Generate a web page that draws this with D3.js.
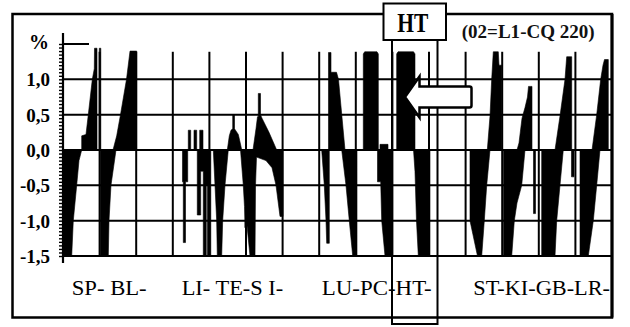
<!DOCTYPE html>
<html><head><meta charset="utf-8">
<script src="https://cdn.jsdelivr.net/npm/d3@7"></script>
<style>html,body{margin:0;padding:0;background:#fff;}svg{display:block;}
.serif{font-family:"Liberation Serif","Times New Roman",Tinos,serif;}
</style>
</head><body>
<svg id="chart" width="630" height="327"></svg>
<script>
// ---------- data ----------
const yTickValues = [-1.5, -1.0, -0.5, 0.0, 0.5, 1.0];
const yTickLabels = ["-1,5", "-1,0", "-0,5", "0,0", "0,5", "1,0"];
const xGridValues = [10, 20, 30, 40, 50, 60, 70, 80, 90, 100, 110, 120, 130, 140];
const groupLabels = ["SP- BL-", "LI- TE-S I-", "LU-PC-HT-", "ST-KI-GB-LR-"];
const highlightLabel = "HT";
const noteLabel = "(02=L1-CQ 220)";
const unitLabel = "%";

// upper (positive) envelope of the dense bars: [position, value]
const upperEnvelope = [
  [5.11,0],[5.11,0.2],[6.28,0.22],[6.91,0.5],[8.01,1.0],[8.55,1.15],[8.61,1.44],[9.29,1.44],[9.29,0],
  [9.92,0],[9.92,1.44],[10.33,1.44],[10.33,0],
  [13.66,0],[14.67,0.2],[15.71,0.5],[17.35,1.0],[18.31,1.4],[20.14,1.4],[20.14,0],
  [34.23,0],[34.23,0.28],[34.89,0.28],[34.89,0],
  [35.79,0],[35.79,0.28],[36.53,0.28],[36.53,0],
  [37.35,0],[37.35,0.28],[38.25,0.28],[38.25,0],
  [44.89,0],[45.44,0.2],[45.9,0.28],[46.37,0.3],[46.37,0.5],[46.86,0.5],[46.86,0.3],[47.9,0.22],[48.55,0.07],[48.83,0],
  [51.91,0],[52.73,0.3],[53.14,0.47],[53.36,0.47],[53.36,0.8],[53.96,0.8],[53.96,0.5],[54.37,0.45],[56.28,0.25],[58.39,0],
  [72.54,0],[72.54,1.38],[73.22,1.38],[73.22,1.1],[74.73,1.1],[75.27,1.0],[77.05,0],
  [82.05,0],[82.05,1.36],[82.43,1.39],[85.79,1.39],[86.15,1.36],[86.15,0],
  [86.61,0],[86.61,0.08],[88.8,0.08],[88.8,0],
  [91.17,0],[91.17,1.36],[91.53,1.39],[95.77,1.39],[96.17,1.36],[96.17,0],
  [115.93,0],[116.67,0.48],[117.13,1.0],[117.57,1.39],[118.93,1.39],[119.13,1.2],[119.86,1.2],[119.86,0],
  [124.04,0],[124.59,0.1],[125.41,0.45],[126.23,0.6],[126.91,0.75],[127.19,0.9],[128.14,0.9],[128.14,0],
  [134.43,0],[135.79,0.48],[137.16,1.0],[137.62,1.32],[138.99,1.32],[138.99,0],
  [144.54,0],[145.82,0.5],[146.91,1.0],[147.54,1.2],[147.95,1.28],[148.99,1.28],[148.99,0]
];

// lower (negative) envelope of the dense bars: [position, value]
const lowerEnvelope = [
  [0,0],[0,-1.5],[2.38,-1.5],[2.81,-1.0],[3.74,-0.5],[4.37,-0.15],[5.11,0],
  [10.19,0],[10.19,-1.5],[12.38,-1.5],[12.57,-1.0],[13.11,-0.5],[14.21,-0.1],[14.48,0],
  [32.65,0],[32.65,-0.45],[32.87,-0.45],[32.87,-1.31],[33.47,-1.31],[33.47,-0.45],[34.07,-0.45],[34.07,0],
  [36.69,0],[36.69,-0.92],[37.62,-0.92],[37.62,-0.3],[38.33,-0.3],[38.33,-1.5],[39.15,-1.5],[39.15,-0.5],[39.48,-0.5],[39.48,-1.5],[40.38,-1.5],[40.38,0],
  [41.07,0],[41.53,-0.5],[41.99,-1.0],[42.16,-1.5],[43.36,-1.5],[43.63,-1.0],[44.26,-0.5],[45.16,0],
  [48.5,0],[49.26,-0.5],[49.59,-0.8],[49.73,-1.1],[49.95,-0.9],[50.14,-1.0],[51.09,-1.5],[52.46,-1.5],[52.6,-0.5],[52.87,-0.1],[55.46,-0.15],[57.1,-0.25],[58.2,-0.5],[59.29,-0.94],[60.11,-0.94],[60.11,0],
  [70.68,0],[71.39,-0.5],[71.86,-1.0],[72.05,-1.32],[72.76,-1.32],[72.76,0],
  [76.15,0],[77.32,-0.5],[78.22,-1.0],[79.15,-1.5],[80.33,-1.5],[80.33,0],
  [85.93,0],[85.93,-0.45],[86.8,-0.45],[87.08,-1.0],[87.98,-1.5],[90.03,-1.5],[90.03,0],
  [95.77,0],[96.17,-0.3],[96.58,-1.0],[97.08,-1.5],[100.27,-1.5],[100.27,0],
  [111.2,0],[111.2,-1.0],[112.02,-1.2],[113.25,-1.5],[114.4,-1.5],[115.11,-1.0],[115.77,-0.5],[116.67,0],
  [120.36,0],[120.36,-1.5],[122.6,-1.5],[123.31,-1.0],[124.04,-0.75],[125.33,-0.5],[126.23,0],
  [128.55,0],[128.55,-0.9],[129.1,-0.9],[129.1,0],
  [130.79,0],[130.79,-1.5],[134.43,-1.5],[134.89,-1.0],[135.79,-0.5],[136.69,0],
  [138.93,0],[138.93,-0.38],[139.62,-0.38],[139.62,0],
  [141.26,0],[141.26,-1.5],[143.52,-1.5],[144.89,-1.0],[145.82,-0.5],[146.72,0]
];

// ---------- layout ----------
const W = 630, H = 327;
const x = d3.scaleLinear().domain([0, 150]).range([63, 612]);
const y = d3.scaleLinear().domain([-1.5, 1.5]).range([256, 44]);
const groupLayout = [ {x: 71.7, w: 75}, {x: 181.7, w: 101.6}, {x: 321.7, w: 110}, {x: 473.3, w: 136.7} ];

const svg = d3.select("#chart");
svg.append("rect").attr("width", W).attr("height", H).attr("fill", "#fff");

// outer frame
svg.append("rect").attr("x", 12.5).attr("y", 14).attr("width", 599.5).attr("height", 303.5)
  .attr("fill", "none").attr("stroke", "#000").attr("stroke-width", 2.5);

// gridlines
const grid = svg.append("g").attr("stroke", "#000").attr("stroke-width", 2);
grid.selectAll("line.h").data(yTickValues).join("line").attr("class", "h")
  .attr("x1", x(0)).attr("x2", x(150)).attr("y1", d => y(d)).attr("y2", d => y(d));
grid.selectAll("line.v").data(xGridValues).join("line").attr("class", "v")
  .attr("x1", d => x(d)).attr("x2", d => x(d)).attr("y1", y(1.39)).attr("y2", y(-1.5));

// bars (dense bar envelopes)
const area = d3.area().x(d => x(d[0])).y0(y(0)).y1(d => y(d[1])).curve(d3.curveLinear);
svg.append("path").datum(upperEnvelope).attr("d", area).attr("fill", "#000").attr("stroke", "#000").attr("stroke-width", 0.6);
svg.append("path").datum(lowerEnvelope).attr("d", area).attr("fill", "#000").attr("stroke", "#000").attr("stroke-width", 0.6);

// y axis: minor comb ticks
const minorTicks = d3.range(-1.5, 1.5001, 0.05);
const minorAxis = d3.axisLeft(y).tickValues(minorTicks).tickSize(4).tickFormat("");
const gm = svg.append("g").attr("transform", `translate(${x(0)},0)`).call(minorAxis);
gm.select(".domain").remove();
gm.selectAll(".tick line").attr("stroke", "#000").attr("stroke-width", 1.4);

// y axis labels
const labelAxis = d3.axisLeft(y).tickValues(yTickValues).tickSize(0).tickPadding(13)
  .tickFormat((d, i) => yTickLabels[i]);
const gl = svg.append("g").attr("transform", `translate(${x(0)},0)`).call(labelAxis);
gl.select(".domain").remove();
gl.attr("font-family", null).attr("font-size", null);
gl.selectAll(".tick text").attr("class", "serif").attr("font-weight", "bold")
  .attr("font-size", 19).attr("fill", "#000").attr("dy", "0.34em");

// y axis line
svg.append("line").attr("x1", x(0)).attr("x2", x(0)).attr("y1", 33).attr("y2", 263)
  .attr("stroke", "#000").attr("stroke-width", 2.2);
// top marker at 1.5
svg.append("line").attr("x1", x(0)).attr("x2", 89).attr("y1", y(1.5)).attr("y2", y(1.5))
  .attr("stroke", "#000").attr("stroke-width", 2);
// x axis line
svg.append("line").attr("x1", x(0)).attr("x2", x(150)).attr("y1", y(-1.5)).attr("y2", y(-1.5))
  .attr("stroke", "#000").attr("stroke-width", 2.2);
// right border
svg.append("line").attr("x1", x(150)).attr("x2", x(150)).attr("y1", 14).attr("y2", 317.5)
  .attr("stroke", "#000").attr("stroke-width", 3);

// unit label
svg.append("text").attr("class", "serif").attr("x", 49).attr("y", 49).attr("text-anchor", "end")
  .attr("font-weight", "bold").attr("font-size", 20).text(unitLabel);

// group labels
svg.selectAll("text.grp").data(groupLabels).join("text").attr("class", "grp serif")
  .attr("x", (d, i) => groupLayout[i].x).attr("y", 295)
  .attr("textLength", (d, i) => groupLayout[i].w).attr("lengthAdjust", "spacingAndGlyphs")
  .attr("font-size", 22).attr("fill", "#000").text(d => d);

// HT highlight column
svg.append("path").attr("d", "M392,40 L392,324 L437.5,324 L437.5,40")
  .attr("fill", "none").attr("stroke", "#000").attr("stroke-width", 2);
svg.append("rect").attr("x", 383.5).attr("y", 3.5).attr("width", 62.5).attr("height", 36.5)
  .attr("fill", "#fff").attr("stroke", "#000").attr("stroke-width", 2);
svg.append("text").attr("class", "serif").attr("x", 397.3).attr("y", 31.5).attr("textLength", 31).attr("lengthAdjust", "spacingAndGlyphs")
  .attr("font-weight", "bold").attr("font-size", 27).text(highlightLabel);

// note
svg.append("text").attr("class", "serif").attr("x", 461.7).attr("y", 37.5).attr("textLength", 133).attr("lengthAdjust", "spacingAndGlyphs")
  .attr("font-weight", "bold").attr("font-size", 18).attr("fill", "#111").text(noteLabel);

// arrow
svg.append("path")
  .attr("d", "M405,97 L419.5,76.5 L419.5,86.5 L469.5,86.5 Q471.5,86.5 471.5,88.5 L471.5,105.5 Q471.5,107.5 469.5,107.5 L419.5,107.5 L419.5,117.5 Z")
  .attr("fill", "#fff").attr("stroke", "#000").attr("stroke-width", 2.5).attr("stroke-linejoin", "miter");
</script>
</body></html>
